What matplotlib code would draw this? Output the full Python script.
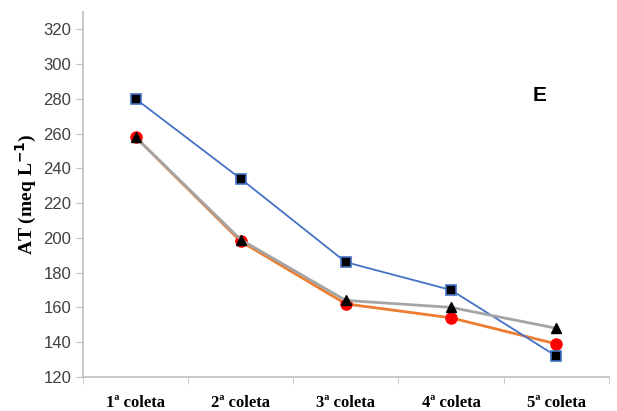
import numpy as np
import matplotlib.pyplot as plt

coletas = ['1ª coleta', '2ª coleta', '3ª coleta', '4ª coleta', '5ª coleta']
azul = [280, 234, 186, 170, 132]
laranja = [258, 198, 162, 154, 139]
cinza = [258, 199, 164, 160, 148]

x = np.arange(len(coletas))

fig = plt.figure(figsize=(6.17, 4.11), dpi=100)
ax = fig.add_axes([0.1345, 0.083, 0.852, 0.888])

ax.plot(x, azul, color='#4472C4', lw=1.3, marker='s', ms=7,
        mfc='black', mec='#4472C4', mew=1.2, zorder=3)
ax.plot(x, laranja, color='#ED7D31', lw=2, marker='o', ms=8,
        mfc='red', mec='red', zorder=2)
ax.plot(x, cinza, color='#A5A5A5', lw=2, marker='^', ms=7,
        mfc='black', mec='black', zorder=4)

ax.set_xlim(-0.5, 4.5)
ax.set_ylim(120, 330)
ax.set_yticks(np.arange(120, 321, 20))
ax.set_xticks(x)
ax.set_xticklabels(coletas, fontfamily='Liberation Serif', fontweight='bold', fontsize=12)
ax.set_xticks(np.arange(-0.5, 4.6, 1), minor=True)
ax.tick_params(axis='x', which='major', length=0, pad=13)
ax.tick_params(axis='x', which='minor', length=5, color='#BFBFBF')
ax.tick_params(axis='y', length=5, color='#BFBFBF', labelsize=12, labelcolor='#404040')
for lab in ax.get_yticklabels():
    lab.set_fontfamily('Liberation Sans')

for s in ['top', 'right']:
    ax.spines[s].set_visible(False)
for s in ['left', 'bottom']:
    ax.spines[s].set_color('#BFBFBF')
    ax.spines[s].set_linewidth(1.2)

ax.set_ylabel('AT (meq L$^{\\mathbf{-1}}$)', fontfamily='Liberation Serif',
              fontweight='bold', fontsize=14, labelpad=3)
ax.text(3.84, 282, 'E', fontfamily='Liberation Sans', fontweight='bold',
        fontsize=15, ha='center', va='center')

fig.savefig('out.png', dpi=100)
